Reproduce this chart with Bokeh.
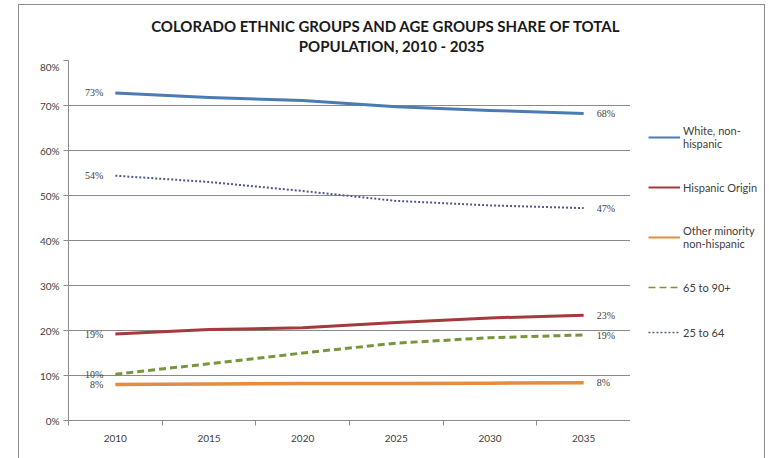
import math
from bokeh.plotting import figure
from bokeh.layouts import row, column
from bokeh.models import (ColumnDataSource, Range1d, FixedTicker, PrintfTickFormatter,
                          LabelSet, Legend, LegendItem, Label)
from bokeh.embed import file_html
from bokeh.resources import INLINE

years = [2010, 2015, 2020, 2025, 2030, 2035]
white = [72.8, 71.8, 71.1, 69.7, 68.9, 68.2]
hispanic = [19.2, 20.2, 20.6, 21.8, 22.8, 23.4]
other_minority = [8.0, 8.1, 8.2, 8.2, 8.3, 8.4]
age_65_90 = [10.3, 12.6, 15.0, 17.2, 18.4, 19.0]
age_25_64 = [54.4, 53.0, 51.0, 48.8, 47.8, 47.2]
y_ticks = [0, 10, 20, 30, 40, 50, 60, 70, 80]

legend_labels = ["White, non-\nhispanic", "Hispanic Origin", "Other minority\nnon-hispanic",
                 "65 to 90+", "25 to 64"]
title_lines = ["COLORADO  ETHNIC  GROUPS AND AGE GROUPS SHARE  OF  TOTAL",
               "POPULATION,  2010 - 2035"]

FONT = "Lato"
TXT = "#404040"
GRID = "#8a8a8a"

# page geometry: charts placed inside a bordered box starting at (18, 4)
OX, OY = 19, 5
TOP = 60                          # page y of the plot frame's top
H_TITLE = TOP - OY
H = 458 - TOP
W_MAIN = 630 - OX                 # main canvas ends at the frame's right edge
W_LEG = 764 - 630                 # legend canvas to the right
FL, FB = 68 - OX, 420 - TOP


def blank(width, height):
    f = figure(width=width, height=height, output_backend="svg", toolbar_location=None,
               x_range=Range1d(0, 1), y_range=Range1d(0, 1),
               min_border_left=0, min_border_right=0, min_border_top=0, min_border_bottom=0)
    f.axis.visible = False
    f.grid.visible = False
    f.outline_line_color = None
    f.background_fill_color = "white"
    f.border_fill_color = "white"
    return f


# title canvas spanning the full chart width
tf = blank(W_MAIN + W_LEG, H_TITLE)
for i, line in enumerate(title_lines):
    tf.add_layout(Label(x=393 - OX, y=TOP - (25 + 20 * i), x_units="screen", y_units="screen",
                        text=line, text_align="center", text_baseline="middle",
                        text_font=FONT, text_font_style="bold", text_font_size="15px",
                        text_color="#1a1a1a"))

p = figure(width=W_MAIN, height=H, output_backend="svg", toolbar_location=None,
           x_range=Range1d(2007.5, 2037.5), y_range=Range1d(0, 80),
           min_border_left=FL, min_border_right=0, min_border_top=0,
           min_border_bottom=H - FB, title=None)
p.outline_line_color = None
p.background_fill_color = "white"
p.border_fill_color = "white"

# axes
p.xgrid.grid_line_color = None
p.ygrid.grid_line_color = GRID
p.ygrid.grid_line_width = 1
p.yaxis.ticker = FixedTicker(ticks=y_ticks)
p.yaxis.formatter = PrintfTickFormatter(format="%d%%")
p.xaxis.ticker = FixedTicker(ticks=years, minor_ticks=[y - 2.5 for y in years] + [years[-1] + 2.5])
for ax in (p.xaxis[0], p.yaxis[0]):
    ax.axis_line_color = GRID
    ax.major_tick_line_color = GRID
    ax.minor_tick_line_color = GRID
    ax.major_label_text_font = FONT
    ax.major_label_text_font_size = "10px"
    ax.major_label_text_color = TXT
p.yaxis.major_tick_out = 5
p.yaxis.major_tick_in = 0
p.yaxis.minor_tick_out = 0
p.yaxis.minor_tick_in = 0
p.yaxis.major_label_standoff = 4
p.xaxis.major_tick_line_color = None
p.xaxis.major_tick_out = 0
p.xaxis.major_tick_in = 0
p.xaxis.minor_tick_out = 5
p.xaxis.minor_tick_in = 0
p.xaxis.major_label_standoff = 9

styles = [
    dict(color="#4a7bb2", width=3, dash="solid"),
    dict(color="#a43a3c", width=3, dash="solid"),
    dict(color="#e38c44", width=3.5, dash="solid"),
    dict(color="#77953d", width=3, dash="7 4"),
    dict(color="#56568c", width=2, dash="2 2"),
]
data = [white, hispanic, other_minority, age_65_90, age_25_64]

# legend lives in its own small canvas to the right of the plot
lf = blank(W_LEG, H)

legend_items = []
for label, vals, st in zip(legend_labels, data, styles):
    src = ColumnDataSource(dict(x=years, y=vals))
    p.line("x", "y", source=src, line_color=st["color"], line_width=st["width"],
           line_dash=st["dash"], line_join="round", line_cap="butt")
    end_src = ColumnDataSource(dict(x=[years[0], years[-1]], y=[vals[0], vals[-1]],
                                    t=[f"{int(round(vals[0]))}%", f"{int(round(vals[-1]))}%"],
                                    align=["right", "left"], off=[-12, 13]))
    p.add_layout(LabelSet(x="x", y="y", text="t", source=end_src, x_offset="off",
                          text_align="align", text_baseline="middle",
                          text_font=FONT, text_font_size="10px", text_color=TXT))
    lr = lf.line([math.nan], [math.nan], line_color=st["color"],
                 line_width=2 if st["dash"] == "solid" else 1.6, line_dash=st["dash"])
    legend_items.append(LegendItem(label=label, renderers=[lr]))

leg = Legend(items=legend_items, location=(18, 80),
             glyph_width=32, glyph_height=16, label_height=16, label_standoff=3,
             spacing=29, padding=0, margin=0, border_line_color=None,
             background_fill_alpha=0, label_text_font=FONT, label_text_font_size="11px",
             label_text_line_height=1.35, label_text_color=TXT)
lf.add_layout(leg, "center")

layout = column(tf, row(p, lf, spacing=0), spacing=0)
layout.margin = (4, 0, 0, 18)
layout.styles = {"border": "1px solid #8c8c8c", "border-bottom": "none"}

open("out.html", "w").write(file_html(layout, INLINE))
